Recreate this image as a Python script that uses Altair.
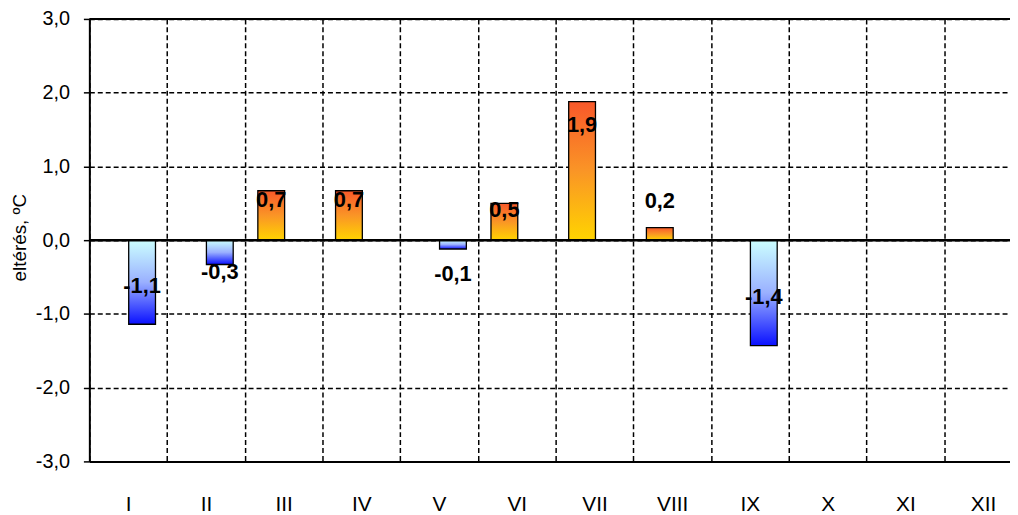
import altair as alt
import pandas as pd

months = ["I", "II", "III", "IV", "V", "VI", "VII", "VIII", "IX", "X", "XI", "XII"]
values = [-1.14, -0.33, 0.67, 0.67, -0.12, 0.50, 1.88, 0.17, -1.43, None, None, None]
label_y = [-0.62, -0.43, 0.55, 0.55, -0.46, 0.41, 1.56, 0.53, -0.77, None, None, None]
y_ticks = [-3, -2, -1, 0, 1, 2, 3]

df = pd.DataFrame({"month": months, "value": values, "label_y": label_y})

FONT = "Liberation Sans"
fmt = "replace(replace(format(datum.value, '.1f'), '.', ','), '\u2212', '-')"

x_scale = alt.Scale(domain=months, range=[0, 940], paddingInner=0, paddingOuter=0)
y_scale = alt.Scale(domain=[-3, 3], nice=False)

x_axis = alt.Axis(
    title=None, tickBand="extent", ticks=False, tickSize=0, labelPadding=32,
    labelFontSize=21, labelFont=FONT, labelColor="black", labelAngle=0,
    domainColor="black", domainWidth=2, grid=True, gridColor="black",
    gridDash=[5, 3], gridWidth=1.5,
)
y_axis = alt.Axis(
    title="eltérés, ºC", values=y_ticks, labelExpr=fmt, labelFontSize=20,
    labelFont=FONT, labelColor="black", labelPadding=14, tickSize=6,
    tickColor="black", tickWidth=1.5, domainColor="black", domainWidth=2,
    grid=True, gridColor="black", gridDash=[5, 3], gridWidth=1.5,
    titleFont=FONT, titleFontSize=19, titleFontWeight="normal", titleColor="black",
    titleX=-70, titleY=220, titleAlign="center", titleBaseline="middle", titleAngle=-90,
)

x_enc = alt.X("month:N", scale=x_scale, sort=months, axis=x_axis)

pos_grad = alt.LinearGradient(
    gradient="linear", x1=0, x2=0, y1=0, y2=1,
    stops=[alt.GradientStop(color="#F8582A", offset=0),
           alt.GradientStop(color="#FA9526", offset=0.5),
           alt.GradientStop(color="#FFD400", offset=1)],
)
neg_grad = alt.LinearGradient(
    gradient="linear", x1=0, x2=0, y1=0, y2=1,
    stops=[alt.GradientStop(color="#CCFFFF", offset=0),
           alt.GradientStop(color="#9AB0FF", offset=0.5),
           alt.GradientStop(color="#0A10FF", offset=1)],
)

base = alt.Chart(df)

pos_bars = base.transform_filter("datum.value > 0").mark_bar(
    size=27, xOffset=-12.5, fill=pos_grad, stroke="black", strokeWidth=1.3
).encode(x=x_enc, y=alt.Y("value:Q", scale=y_scale, axis=y_axis), y2=alt.datum(0))

neg_bars = base.transform_filter("datum.value < 0").mark_bar(
    size=27, xOffset=14, fill=neg_grad, stroke="black", strokeWidth=1.3
).encode(x=x_enc, y=alt.Y("value:Q", scale=y_scale, axis=y_axis), y2=alt.datum(0))

txt_style = dict(font=FONT, fontSize=22, fontWeight="bold", color="black",
                 baseline="middle", align="center")

pos_txt = base.transform_filter("datum.value > 0").transform_calculate(
    label=fmt
).mark_text(xOffset=-12.5, **txt_style).encode(
    x=x_enc, y=alt.Y("label_y:Q", scale=y_scale, axis=y_axis), text="label:N"
)
neg_txt = base.transform_filter("datum.value < 0").transform_calculate(
    label=fmt
).mark_text(xOffset=14, **txt_style).encode(
    x=x_enc, y=alt.Y("label_y:Q", scale=y_scale, axis=y_axis), text="label:N"
)

zero_rule = alt.Chart(pd.DataFrame({"ref": [0]})).mark_rule(
    color="black", strokeWidth=2.5
).encode(y=alt.Y("ref:Q", scale=y_scale, axis=y_axis))

top_rule = alt.Chart(pd.DataFrame({"ref": [3]})).mark_rule(
    color="black", strokeWidth=2
).encode(y=alt.Y("ref:Q", scale=y_scale, axis=y_axis))

chart = alt.layer(pos_bars, neg_bars, pos_txt, neg_txt, zero_rule, top_rule).properties(
    width=928, height=446,
    autosize=alt.AutoSizeParams(type="none"),
    padding={"left": 82, "top": 9, "right": 0, "bottom": 52},
    background="white",
).configure_view(stroke=None)

chart.save("out.html", embed_options={"renderer": "svg", "actions": False})
